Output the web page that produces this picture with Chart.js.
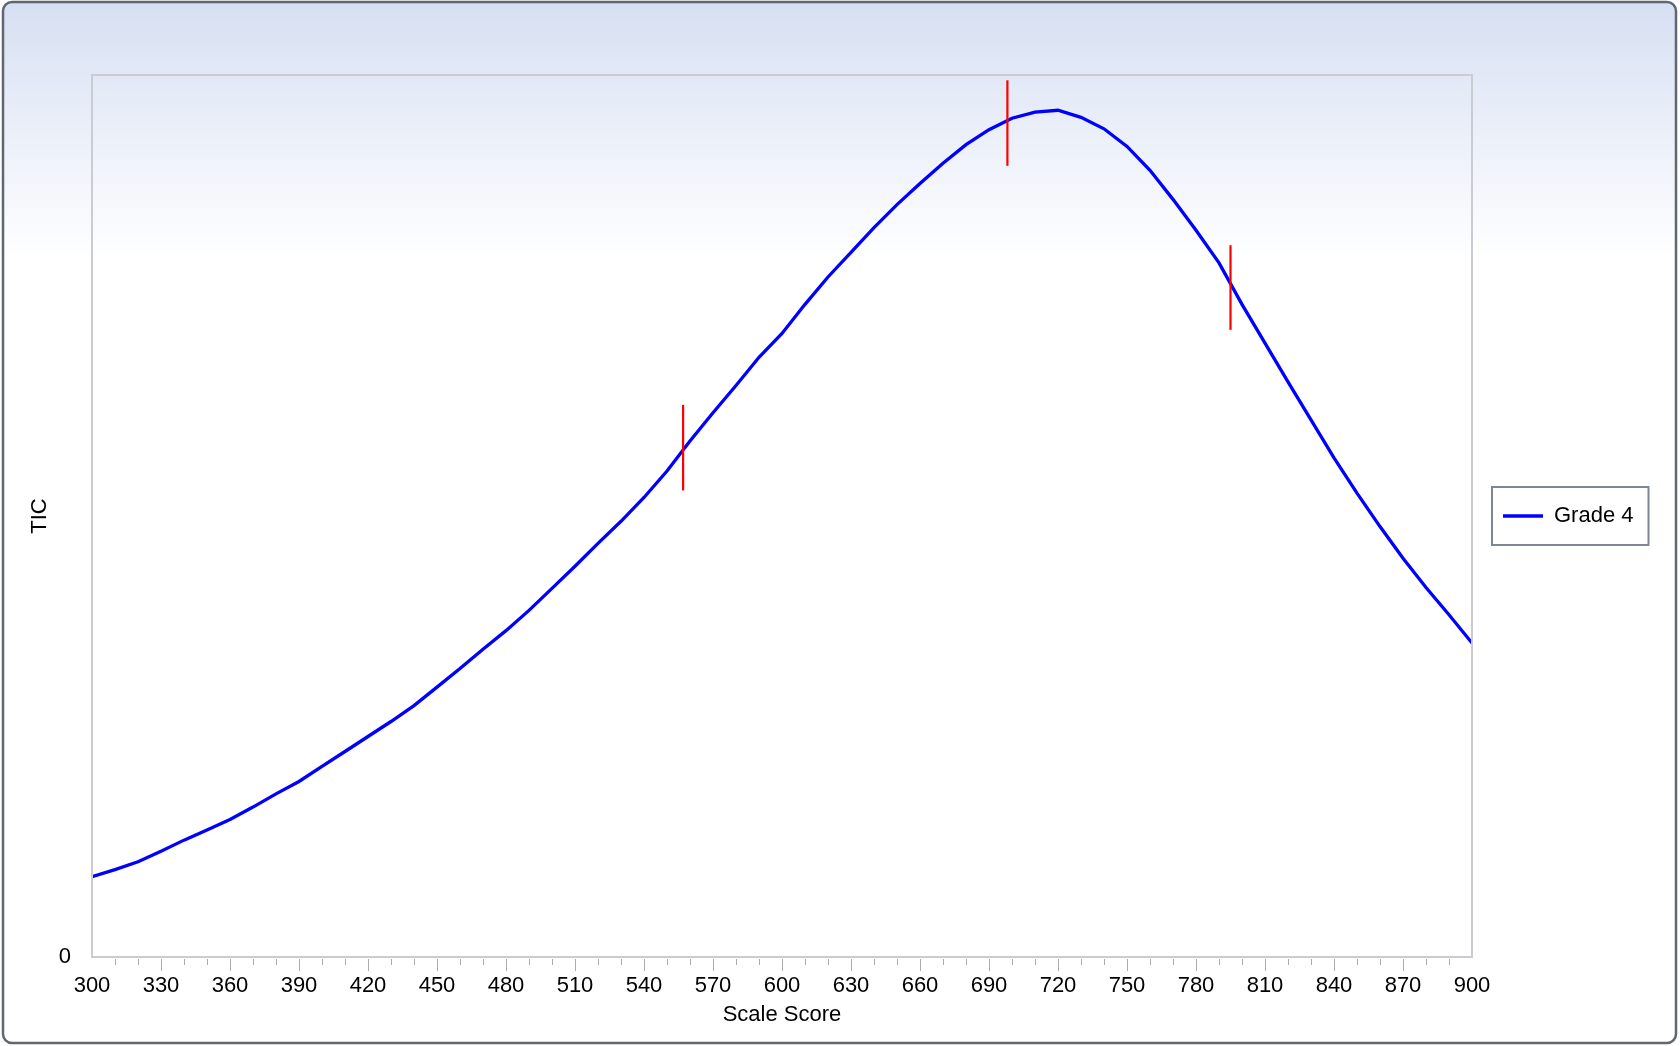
<!DOCTYPE html>
<html>
<head>
<meta charset="utf-8">
<script src="https://cdn.jsdelivr.net/npm/chart.js@4.4.1/dist/chart.umd.min.js"></script>
<style>
  html, body { margin: 0; padding: 0; background: #fff; }
</style>
</head>
<body>
<canvas id="ticChart" width="1680" height="1046"></canvas>
<script>
const scores = [300, 310, 320, 330, 340, 350, 360, 370, 380, 390,
  400, 410, 420, 430, 440, 450, 460, 470, 480, 490,
  500, 510, 520, 530, 540, 550, 560, 570, 580, 590,
  600, 610, 620, 630, 640, 650, 660, 670, 680, 690,
  700, 710, 720, 730, 740, 750, 760, 770, 780, 790,
  800, 810, 820, 830, 840, 850, 860, 870, 880, 890, 900];
const ticValues = [9.1, 9.9, 10.8, 12.0, 13.25, 14.4, 15.6, 17.0, 18.5, 19.9,
  21.6, 23.3, 25.0, 26.7, 28.5, 30.6, 32.7, 34.9, 37.0, 39.3,
  41.8, 44.3, 46.9, 49.4, 52.1, 55.1, 58.5, 61.7, 64.8, 68.0,
  70.7, 74.0, 77.1, 79.9, 82.7, 85.3, 87.7, 90.0, 92.1, 93.8,
  95.1, 95.8, 96.0, 95.2, 93.9, 91.9, 89.2, 85.9, 82.4, 78.7,
  74.0, 69.6, 65.2, 60.9, 56.6, 52.6, 48.8, 45.2, 41.9, 38.8, 35.6];

// red cut-score markers
const cutScores = [557, 698, 795];
const cutLow = [52.9, 89.7, 71.1];
const cutHigh = [62.6, 99.4, 80.7];

const xTickLabels = [300, 330, 360, 390, 420, 450, 480, 510, 540, 570, 600,
  630, 660, 690, 720, 750, 780, 810, 840, 870, 900];
const yTickLabels = [0];

const FONT = { family: "'Liberation Sans', Arial, sans-serif", size: 22 };

const datasets = [{
  label: "Grade 4",
  data: scores.map((s, i) => ({ x: s, y: ticValues[i] })),
  borderColor: "#0000ff",
  backgroundColor: "#0000ff",
  borderWidth: 3.3,
  pointRadius: 0,
  tension: 0,
  order: 1,
}];
cutScores.forEach((s, i) => {
  datasets.push({
    label: "cut" + i,
    data: [{ x: s, y: cutLow[i] }, { x: s, y: cutHigh[i] }],
    borderColor: "#ff0000",
    borderWidth: 2.2,
    pointRadius: 0,
    order: 0,
  });
});

// panel background with rounded frame
const panelBg = {
  id: "panelBg",
  beforeDraw(chart) {
    const c = chart.ctx;
    const g = c.createLinearGradient(0, 0, 0, 260);
    g.addColorStop(0, "#d6dff2");
    g.addColorStop(1, "#ffffff");
    c.save();
    c.beginPath();
    c.roundRect(3, 2, 1673, 1041, 9);
    c.fillStyle = g;
    c.fill();
    c.lineWidth = 2.5;
    c.strokeStyle = "#5f6772";
    c.stroke();
    c.restore();
  },
};

// plot frame, x tick marks, legend box
const frames = {
  id: "frames",
  beforeInit(chart) {
    const fit = chart.legend.fit;
    chart.legend.fit = function () {
      fit.call(this);
      this.width = 208;
    };
  },
  afterDraw(chart) {
    const c = chart.ctx;
    const a = chart.chartArea;
    c.save();
    c.strokeStyle = "#c9cdd3";
    c.lineWidth = 2;
    c.strokeRect(a.left, a.top, a.right - a.left, a.bottom - a.top);

    const xs = chart.scales.x;
    c.strokeStyle = "#a9abae";
    c.lineWidth = 1;
    xs.ticks.forEach((t) => {
      if (t.value <= 300 || t.value >= 900) return;
      const px = Math.round(xs.getPixelForValue(t.value)) + 0.5;
      const len = xTickLabels.includes(t.value) ? 12 : 6;
      c.beginPath();
      c.moveTo(px, a.bottom + 2);
      c.lineTo(px, a.bottom + 2 + len);
      c.stroke();
    });

    const hb = chart.legend.legendHitBoxes[0];
    if (hb) {
      const cy = hb.top + hb.height / 2;
      c.strokeStyle = "#7d8894";
      c.lineWidth = 2;
      c.strokeRect(hb.left - 11, cy - 29, hb.width + 26, 58);
    }
    c.restore();
  },
};

new Chart(document.getElementById("ticChart").getContext("2d"), {
  type: "line",
  data: { datasets: datasets },
  options: {
    responsive: false,
    animation: false,
    events: [],
    layout: { padding: { top: 75, left: 0, right: 0, bottom: 0 } },
    scales: {
      x: {
        type: "linear",
        min: 300,
        max: 900,
        afterFit: (scale) => { scale.height = 89; },
        border: { display: true, color: "#c9cdd3", width: 2 },
        grid: { drawOnChartArea: false, drawTicks: false },
        ticks: {
          stepSize: 10,
          autoSkip: false,
          maxRotation: 0,
          padding: 16,
          color: "#000",
          font: FONT,
          callback: (v) => (xTickLabels.includes(v) ? String(v) : ""),
        },
        title: {
          display: true,
          text: "Scale Score",
          color: "#000",
          font: FONT,
          padding: { top: 0, bottom: 18 },
        },
      },
      y: {
        min: 0,
        max: 100,
        afterFit: (scale) => { scale.width = 92; },
        afterBuildTicks: (axis) => { axis.ticks = yTickLabels.map((v) => ({ value: v })); },
        border: { display: true, color: "#c9cdd3", width: 2 },
        grid: { drawOnChartArea: false, drawTicks: false },
        ticks: { padding: 21, color: "#000", font: FONT },
        title: {
          display: true,
          text: "TIC",
          color: "#000",
          font: FONT,
          padding: { top: 27, bottom: 0 },
        },
      },
    },
    plugins: {
      legend: {
        position: "right",
        fullSize: false,
        labels: {
          usePointStyle: true,
          pointStyle: "line",
          pointStyleWidth: 40,
          padding: 31,
          color: "#000",
          font: FONT,
          filter: (item) => item.datasetIndex === 0,
        },
      },
      tooltip: { enabled: false },
    },
  },
  plugins: [panelBg, frames],
});
</script>
</body>
</html>
